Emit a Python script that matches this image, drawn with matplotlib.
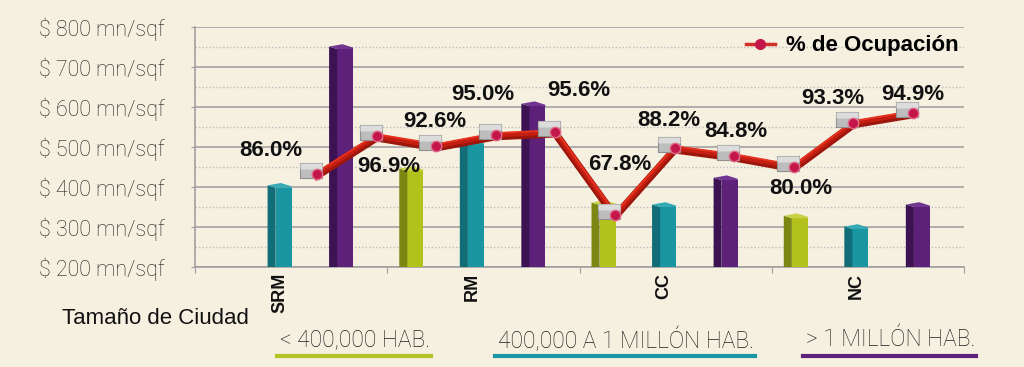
import numpy as np
import matplotlib
matplotlib.use('Agg')
import matplotlib.pyplot as plt
from matplotlib.patches import Rectangle, Polygon
from matplotlib.lines import Line2D
from matplotlib import transforms

plt.rcParams['font.family'] = ['Liberation Sans', 'DejaVu Sans']
ligera = {'family': ['Roboto', 'Liberation Sans'], 'weight': 'light'}

categorias = ['SRM', 'RM', 'CC', 'NC']
grupos = ['< 400,000 HAB.', '400,000 A 1 MILLÓN HAB.', '> 1 MILLÓN HAB.']
precio_pequena = [np.nan, 440, 355, 322]
precio_media = [398, 507, 350, 295]
precio_grande = [745, 602, 417, 350]
ocupacion = [86.0, 96.9, 92.6, 95.0, 95.6, 67.8, 88.2, 84.8, 80.0, 93.3, 94.9]
# height at which the line is drawn (on the price axis)
ocupacion_nivel = [432, 527, 502, 530, 537, 330, 497, 477, 450, 560, 585]

bg = '#f6f0e1'
colores = [('#b3c11d', '#7b8712', '#c9d246'),
           ('#1a96a3', '#116d77', '#35a9b4'),
           ('#5d2179', '#3d1252', '#713490')]
linea_col = ['#b3c424', '#1a97a4', '#5c2279']

fig = plt.figure(figsize=(10.24, 3.67), dpi=100, facecolor=bg)
ax = fig.add_axes([195 / 1024, 1 - 267 / 367, 769 / 1024, 240 / 367])
ax.set_facecolor(bg)
ax.set_xlim(-0.5, 3.5)
ax.set_ylim(200, 800)

for v in range(200, 801, 100):
    ax.axhline(v, color='#a9a9a9', lw=1.3, zorder=1)
for v in range(250, 800, 100):
    ax.axhline(v, color='#bdbdbd', lw=1, ls=(0, (1, 1.5)), zorder=1)

# 3d-looking columns
w, d, dy = 0.125, 0.042, 6
offsets = [-0.375, -0.06, 0.26]
for serie, off, (cf, cs, ct) in zip([precio_pequena, precio_media, precio_grande], offsets, colores):
    for i, h in enumerate(serie):
        if np.isnan(h):
            continue
        xl = i + off - w / 2
        xr = i + off + w / 2
        ax.add_patch(Rectangle((xl + d, 200), xr - xl - d, h - 200, color=cf, zorder=3, lw=0))
        ax.add_patch(Polygon([(xl, 200), (xl, h + dy), (xl + d, h), (xl + d, 200)],
                             closed=True, color=cs, zorder=3, lw=0))
        ax.add_patch(Polygon([(xl, h + dy), (xl + 0.55 * w, h + 2 * dy), (xr, h + 0.6 * dy),
                              (xr, h), (xl + d, h)], closed=True, color=ct, zorder=3, lw=0))

# occupancy line (ribbon look)
x_lin = np.linspace(0.135, 3.235, len(ocupacion))
down = transforms.offset_copy(ax.transData, fig=fig, x=0, y=-1.5, units='dots')
ax.plot(x_lin, ocupacion_nivel, color='#9c160b', lw=5.5, zorder=5,
        solid_joinstyle='round', transform=down)
ax.plot(x_lin, ocupacion_nivel, color='#c41e12', lw=3.2, zorder=5, solid_joinstyle='round')
up = transforms.offset_copy(ax.transData, fig=fig, x=0, y=2, units='dots')
ax.plot(x_lin, ocupacion_nivel, color='#e8341f', lw=1.3, zorder=5, transform=up)

caja = [(-17, -4), (5, -4), (5, 11), (-17, 11), (-17, -4)]
caja_top = [(-17, 5), (5, 5), (5, 11), (-17, 11), (-17, 5)]
ax.plot(x_lin, ocupacion_nivel, ls='none', marker=caja, ms=24, mfc='#bdbdbd',
        mec='#8f8f8f', mew=0.8, zorder=6)
ax.plot(x_lin, ocupacion_nivel, ls='none', marker=caja_top, ms=24, mfc='#dcdcdc',
        mec='none', zorder=6)
ax.plot(x_lin, ocupacion_nivel, ls='none', marker='o', ms=7.5, mfc='#c3174a',
        mec='#e26a8a', mew=1, zorder=7)

desp = [(-46, 24), (12, -30), (-1, 25), (-13, 41), (23, 42), (5, 50),
        (-6, 28), (2, 25), (7, -21), (-21, 25), (0, 19)]
for x, y, v, (ox, oy) in zip(x_lin, ocupacion_nivel, ocupacion, desp):
    ax.annotate(f'{v:.1f}%', (x, y), xytext=(ox, oy), textcoords='offset pixels',
                ha='center', va='center', fontsize=16, fontweight='bold', color='#111111',
                zorder=4 if v < 70 else 8)

ax.legend(handles=[Line2D([], [], color='#d03028', lw=2.5, marker='o', ms=7,
                          mfc='#c3174a', mec='#c3174a')],
          labels=['% de Ocupación'], loc='upper right', bbox_to_anchor=(0.993, 0.965),
          frameon=False, borderaxespad=0, borderpad=0, handlelength=1.3,
          handletextpad=0.5, prop={'size': 16, 'weight': 'bold'})

# axes styling
for s in ['top', 'right']:
    ax.spines[s].set_visible(False)
for s in ['left', 'bottom']:
    ax.spines[s].set_color('#a0a0a0')
    ax.spines[s].set_linewidth(1.2)
ax.set_yticks(range(200, 801, 100))
ax.set_yticklabels([f'$ {v} mn/sqf' for v in range(200, 801, 100)],
                   fontsize=15.5, color='#1e1e1e', **ligera)
ax.tick_params(axis='y', length=3, color='#a0a0a0', pad=19)
ax.set_xticks(np.arange(-0.5, 3.6, 1))
ax.set_xticklabels([])
ax.tick_params(axis='x', length=4, color='#a0a0a0', direction='out')

trans = transforms.blended_transform_factory(ax.transData, ax.transAxes)
for i, c in enumerate(categorias):
    ax.text(i - 0.06, -0.025, c, transform=trans, rotation=90, ha='center', va='top',
            fontsize=13, fontweight='bold', color='#111111')

fig.text(62 / 1024, 1 - 319 / 367, 'Tamaño de Ciudad', fontsize=16, va='center',
         ha='left', color='#111111')

xs = [280, 498, 806]
textos = []
for x, g in zip(xs, grupos):
    textos.append(fig.text(x / 1024, 1 - 340 / 367, g, fontsize=16.4, va='center',
                           ha='left', color='#1e1e1e', **ligera))
fig.canvas.draw()
r = fig.canvas.get_renderer()
for t, c in zip(textos, linea_col):
    bb = t.get_window_extent(r)
    fig.add_artist(Line2D([(bb.x0 - 3) / 1024, (bb.x1 + 1) / 1024],
                          [1 - 355.5 / 367] * 2, color=c, lw=3))

fig.savefig('out.png', dpi=100, facecolor=bg)
